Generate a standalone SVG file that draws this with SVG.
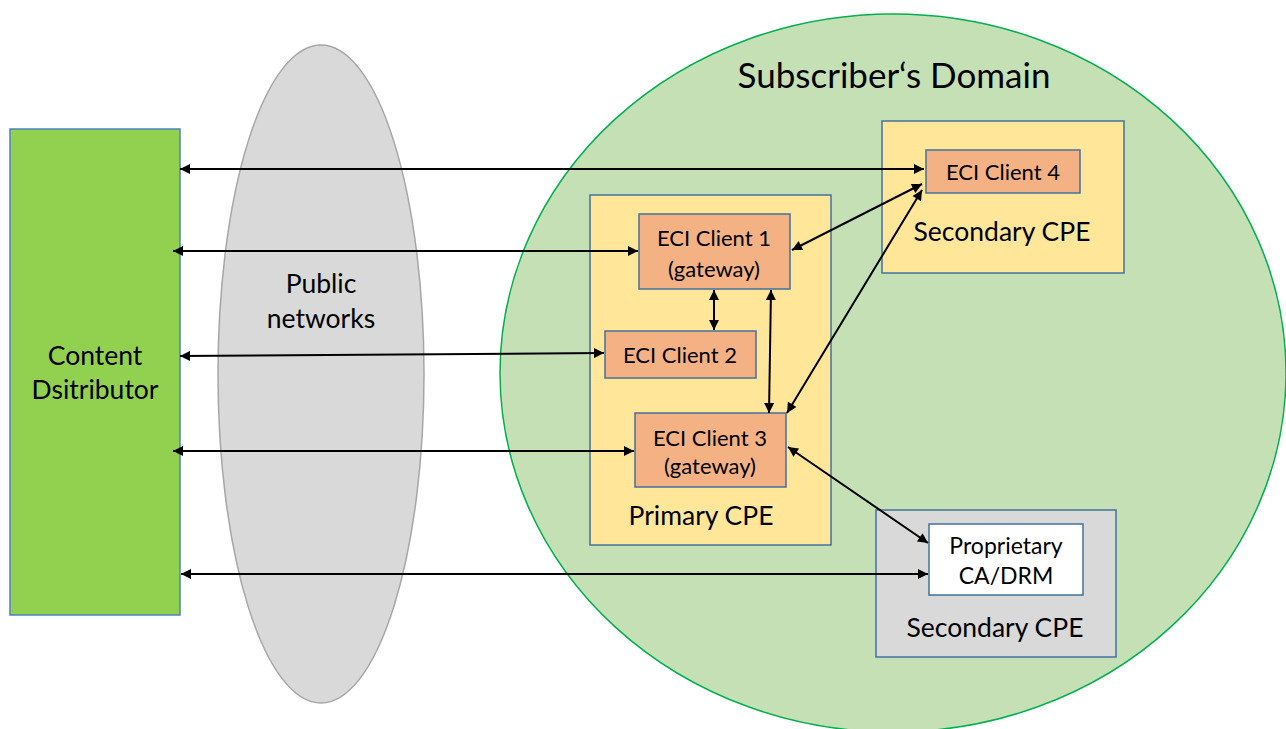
<svg xmlns="http://www.w3.org/2000/svg" width="1286" height="729" viewBox="0 0 1286 729">
<style>
text{font-family:Lato,"Liberation Sans",sans-serif;fill:#000;text-anchor:middle}
.big{font-size:26.5px}
.mid{font-size:22px}
.client{fill:#f4b183;stroke:#41719c;stroke-width:1.5}
.cpe{stroke:#41719c;stroke-width:1.5}
.conn{stroke:#000;stroke-width:2;fill:none;marker-start:url(#ah);marker-end:url(#ah)}
</style>
<defs>
<marker id="ah" viewBox="0 0 10 10" refX="10" refY="5" markerWidth="6" markerHeight="5" markerUnits="strokeWidth" orient="auto-start-reverse">
<path d="M0,0 L10,5 L0,10 z" fill="#000"/>
</marker>
</defs>
<rect width="1286" height="729" fill="#fff"/>
<g id="domain">
<ellipse cx="893" cy="373" rx="393" ry="359" fill="#c5e0b4" stroke="#00b050" stroke-width="1.5"/>
<text x="894" y="88" style="font-size:35px">Subscriber‘s Domain</text>
</g>
<g id="public-networks">
<ellipse cx="321" cy="374" rx="103" ry="329" fill="#d9d9d9" stroke="#a6a6a6" stroke-width="1.5"/>
<text class="big" x="321" y="293">Public</text>
<text class="big" x="321" y="328">networks</text>
</g>
<g id="content-distributor">
<rect x="10" y="129" width="170" height="486" fill="#92d050" stroke="#4f81bd" stroke-width="1.5"/>
<text class="big" x="95" y="365">Content</text>
<text class="big" x="95" y="399">Dsitributor</text>
</g>
<g id="primary-cpe">
<rect class="cpe" x="590" y="195" width="241" height="350" fill="#ffe699"/>
<text class="big" x="701" y="525">Primary CPE</text>
</g>
<g id="eci-client-1">
<rect class="client" x="639" y="214" width="151" height="75"/>
<text class="mid" x="714" y="246">ECI Client 1</text>
<text class="mid" x="714" y="277">(gateway)</text>
</g>
<g id="eci-client-2">
<rect class="client" x="605" y="331" width="151" height="47"/>
<text class="mid" x="680" y="363">ECI Client 2</text>
</g>
<g id="eci-client-3">
<rect class="client" x="635" y="413" width="151" height="74"/>
<text class="mid" x="710" y="446">ECI Client 3</text>
<text class="mid" x="710" y="474">(gateway)</text>
</g>
<g id="secondary-cpe-1">
<rect class="cpe" x="882" y="121" width="242" height="152" fill="#ffe699"/>
<text class="big" x="1002" y="241">Secondary CPE</text>
</g>
<g id="eci-client-4">
<rect class="client" x="926" y="150" width="154" height="43"/>
<text class="mid" x="1003" y="180">ECI Client 4</text>
</g>
<g id="secondary-cpe-2">
<rect class="cpe" x="876" y="510" width="240" height="147" fill="#d9d9d9"/>
<text class="big" x="995" y="637">Secondary CPE</text>
</g>
<g id="proprietary-ca-drm">
<rect class="cpe" x="929" y="524" width="154" height="71" fill="#fff"/>
<text x="1006" y="554" style="font-size:23px">Proprietary</text>
<text x="1006" y="584" style="font-size:23px">CA/DRM</text>
</g>
<g id="connectors">
<line class="conn" x1="180" y1="169" x2="924" y2="169"/>
<line class="conn" x1="173" y1="251" x2="638" y2="251"/>
<line class="conn" x1="180" y1="356" x2="604" y2="353"/>
<line class="conn" x1="173" y1="451" x2="634" y2="451"/>
<line class="conn" x1="181" y1="574" x2="928" y2="574"/>
<line class="conn" x1="792" y1="250" x2="922" y2="184"/>
<line class="conn" x1="714" y1="290" x2="714" y2="330"/>
<line class="conn" x1="771" y1="290" x2="769" y2="413"/>
<line class="conn" x1="787" y1="413" x2="922" y2="190"/>
<line class="conn" x1="788" y1="447" x2="928" y2="543"/>
</g>
</svg>
